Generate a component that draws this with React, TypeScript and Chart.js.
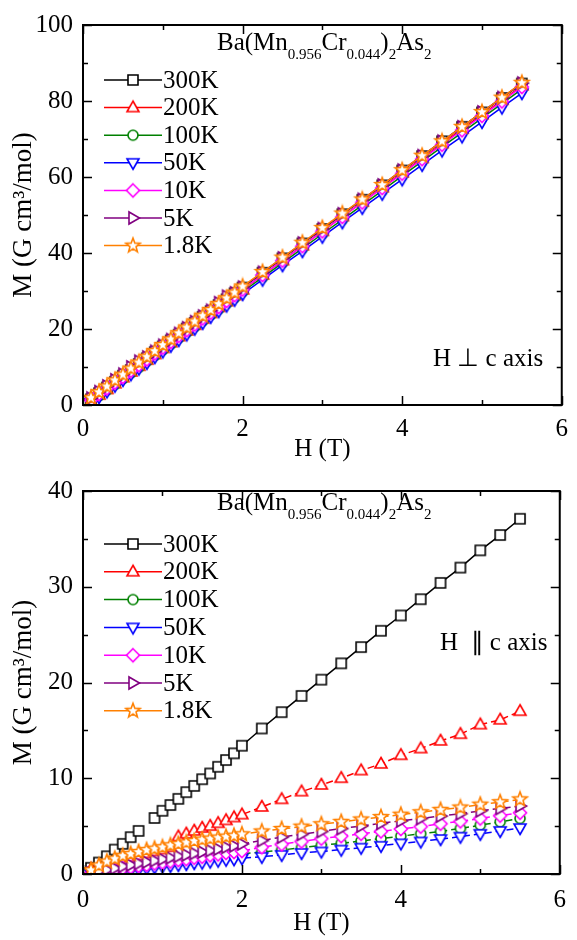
import { useEffect, useRef } from 'react';
import { Chart, registerables } from 'chart.js';

Chart.register(...registerables);

const FONT = '"Liberation Serif", "Times New Roman", Times, serif';

const SERIES_LABELS = ['300K', '200K', '100K', '50K', '10K', '5K', '1.8K'];
const SERIES_COLORS = ['#000000', '#ff0000', '#008000', '#0000ff', '#ff00ff', '#800080', '#ff8000'];
const SERIES_SHAPES = ['square', 'triangle', 'circle', 'triangleDown', 'diamond', 'triangleRight', 'star'];

const H_FIELD = [0.1, 0.2, 0.3, 0.4, 0.5, 0.6, 0.7, 0.8, 0.9, 1.0, 1.1, 1.2, 1.3, 1.4, 1.5, 1.6, 1.7, 1.8, 1.9, 2.0,
  2.25, 2.5, 2.75, 3.0, 3.25, 3.5, 3.75, 4.0, 4.25, 4.5, 4.75, 5.0, 5.25, 5.5];

// H perpendicular to c axis
const PERP_300K = [1.5, 3.1, 4.6, 6.1, 7.7, 9.2, 10.8, 12.3, 13.9, 15.4, 17.0, 18.5, 20.1, 21.6, 23.2, 24.7, 26.3, 27.8, 29.4, 30.9, 34.8, 38.6, 42.5, 46.3, 50.2, 54.0, 57.8, 61.7, 65.5, 69.4, 73.2, 77.0, 80.8, 84.6];
const PERP_200K = [1.0, 2.6, 4.1, 5.6, 7.2, 8.7, 10.2, 11.8, 13.3, 14.9, 16.4, 18.0, 19.5, 21.0, 22.6, 24.1, 25.7, 27.2, 28.8, 30.3, 34.2, 38.0, 41.9, 45.7, 49.6, 53.4, 57.2, 61.1, 64.9, 68.8, 72.6, 76.4, 80.2, 84.0];
const PERP_100K = [0.9, 2.4, 3.9, 5.4, 6.9, 8.4, 9.9, 11.5, 13.0, 14.5, 16.0, 17.6, 19.1, 20.6, 22.1, 23.7, 25.2, 26.7, 28.2, 29.8, 33.6, 37.4, 41.2, 45.0, 48.8, 52.6, 56.4, 60.3, 64.1, 67.9, 71.7, 75.5, 79.3, 83.1];
const PERP_50K = [0.6, 2.1, 3.6, 5.1, 6.6, 8.1, 9.6, 11.1, 12.6, 14.1, 15.6, 17.1, 18.6, 20.1, 21.6, 23.2, 24.7, 26.2, 27.7, 29.2, 33.0, 36.8, 40.5, 44.3, 48.1, 51.9, 55.6, 59.4, 63.2, 67.0, 70.7, 74.5, 78.3, 82.1];
const PERP_10K = [1.3, 2.9, 4.4, 5.9, 7.4, 9.0, 10.5, 12.0, 13.6, 15.1, 16.6, 18.2, 19.7, 21.2, 22.8, 24.3, 25.8, 27.4, 28.9, 30.4, 34.2, 38.0, 41.8, 45.7, 49.5, 53.3, 57.1, 60.9, 64.7, 68.5, 72.3, 76.1, 79.9, 83.7];
const PERP_5K = [1.8, 3.5, 5.0, 6.6, 8.1, 10.0, 11.5, 12.6, 14.1, 15.7, 17.2, 18.8, 20.3, 21.9, 23.4, 24.9, 26.9, 28.6, 29.5, 31.0, 34.9, 38.7, 42.6, 46.4, 50.3, 54.1, 57.9, 61.8, 65.6, 69.4, 73.2, 77.1, 80.9, 84.7];
const PERP_1P8K = [1.9, 3.4, 4.9, 6.5, 8.0, 9.6, 11.2, 12.7, 14.2, 15.8, 17.3, 18.9, 20.4, 22.0, 23.5, 25.0, 26.6, 28.1, 29.6, 31.2, 35.0, 38.8, 42.7, 46.6, 50.4, 54.1, 57.9, 61.8, 65.6, 69.4, 73.2, 77.1, 80.9, 84.8];

// H parallel to c axis
const PAR_300K = [0.65, 1.2, 1.85, 2.55, 3.15, 3.85, 4.5, null, 5.85, 6.6, 7.2, 7.85, 8.55, 9.2, 9.9, 10.5, 11.2, 11.9, 12.6, 13.4, 15.2, 16.9, 18.6, 20.3, 22.0, 23.7, 25.4, 27.0, 28.7, 30.4, 32.0, 33.8, 35.4, 37.1];
const PAR_200K = [0.5, 0.8, 1.0, 1.25, 1.45, 1.7, 1.9, 2.15, 2.35, 2.55, 2.8, 3.9, 4.2, 4.5, 4.8, 5.0, 5.3, 5.6, 5.9, 6.2, 7.0, 7.8, 8.6, 9.3, 10.0, 10.8, 11.5, 12.4, 13.1, 13.9, 14.6, 15.6, 16.1, 17.0];
const PAR_100K = [0.0, 0.15, 0.3, 0.4, 0.55, 0.65, 0.8, 0.9, 1.0, 1.1, 1.2, 1.3, 1.4, 1.5, 1.6, 1.7, 1.8, 1.9, 2.0, 2.1, 2.3, 2.5, 2.75, 3.0, 3.2, 3.45, 3.7, 3.95, 4.2, 4.45, 4.75, 5.1, 5.45, 5.8];
const PAR_50K = [0.0, 0.1, 0.15, 0.25, 0.35, 0.45, 0.5, 0.6, 0.7, 0.8, 0.85, 0.95, 1.05, 1.15, 1.2, 1.3, 1.4, 1.5, 1.55, 1.65, 1.8, 2.0, 2.2, 2.35, 2.55, 2.75, 2.95, 3.2, 3.4, 3.65, 3.9, 4.2, 4.5, 4.8];
const PAR_10K = [0.05, 0.2, 0.35, 0.45, 0.6, 0.7, 0.85, 0.95, 1.1, 1.2, 1.3, 1.45, 1.55, 1.7, 1.8, 1.95, 2.05, 2.2, 2.3, 2.4, 2.8, 3.1, 3.4, 3.7, 3.95, 4.2, 4.45, 4.7, 4.95, 5.25, 5.5, 5.8, 6.1, 6.4];
const PAR_5K = [0.1, 0.3, 0.45, 0.6, 0.8, 0.95, 1.1, 1.25, 1.4, 1.55, 1.7, 1.85, 2.0, 2.15, 2.3, 2.45, 2.6, 2.8, 2.95, 3.15, 3.5, 3.85, 4.15, 4.45, 4.75, 5.0, 5.3, 5.55, 5.8, 6.05, 6.3, 6.6, 6.85, 7.1];
const PAR_1P8K = [0.4, 0.9, 1.3, 1.6, 1.9, 2.1, 2.3, 2.5, 2.65, 2.8, 3.0, 3.15, 3.3, 3.45, 3.6, 3.7, 3.8, 3.9, 4.0, 4.15, 4.45, 4.7, 4.95, 5.2, 5.45, 5.7, 5.95, 6.2, 6.45, 6.7, 6.95, 7.25, 7.5, 7.8];

const PERP_SERIES = [PERP_300K, PERP_200K, PERP_100K, PERP_50K, PERP_10K, PERP_5K, PERP_1P8K];
const PAR_SERIES = [PAR_300K, PAR_200K, PAR_100K, PAR_50K, PAR_10K, PAR_5K, PAR_1P8K];

const X_LABEL_TICKS = [0, 2, 4, 6];
const Y_TITLE = 'M (G cm\u00B3/mol)';
const X_TITLE = 'H (T)';

function makeMarker(shape: string, color: string): HTMLCanvasElement {
  const size = 20;
  const c = document.createElement('canvas');
  c.width = size;
  c.height = size;
  const ctx = c.getContext('2d')!;
  const cx = size / 2;
  const cy = size / 2;
  ctx.strokeStyle = color;
  ctx.fillStyle = '#ffffff';
  ctx.lineWidth = 1.6;
  ctx.lineJoin = 'miter';
  ctx.beginPath();
  if (shape === 'square') {
    ctx.rect(cx - 5, cy - 5, 10, 10);
  } else if (shape === 'triangle') {
    ctx.moveTo(cx, cy - 6.5);
    ctx.lineTo(cx + 6, cy + 4);
    ctx.lineTo(cx - 6, cy + 4);
    ctx.closePath();
  } else if (shape === 'triangleDown') {
    ctx.moveTo(cx, cy + 6.5);
    ctx.lineTo(cx + 6, cy - 4);
    ctx.lineTo(cx - 6, cy - 4);
    ctx.closePath();
  } else if (shape === 'triangleRight') {
    ctx.moveTo(cx + 6.5, cy);
    ctx.lineTo(cx - 4, cy + 6);
    ctx.lineTo(cx - 4, cy - 6);
    ctx.closePath();
  } else if (shape === 'circle') {
    ctx.arc(cx, cy, 5, 0, Math.PI * 2);
  } else if (shape === 'diamond') {
    ctx.moveTo(cx, cy - 6.5);
    ctx.lineTo(cx + 6.5, cy);
    ctx.lineTo(cx, cy + 6.5);
    ctx.lineTo(cx - 6.5, cy);
    ctx.closePath();
  } else if (shape === 'star') {
    for (let k = 0; k < 10; k++) {
      const r = k % 2 === 0 ? 7.5 : 3.2;
      const a = -Math.PI / 2 + (k * Math.PI) / 5;
      const px = cx + r * Math.cos(a);
      const py = cy + r * Math.sin(a);
      if (k === 0) ctx.moveTo(px, py);
      else ctx.lineTo(px, py);
    }
    ctx.closePath();
  }
  ctx.fill();
  ctx.stroke();
  return c;
}

type PanelCfg = {
  height: number;
  padTop: number;
  plotBottom: number;
  yMax: number;
  yStep: number;
  yMinor: number;
  series: (number | null)[][];
  dashed: boolean;
  titleBaseline: number;
  legendY0: number;
  legendDy: number;
  note: string;
  noteX: number;
  noteY: number;
  xTickPad: number;
};

function Panel({ cfg }: { cfg: PanelCfg }) {
  const ref = useRef<HTMLCanvasElement | null>(null);
  useEffect(() => {
    const canvas = ref.current;
    if (!canvas) return;
    const markers = SERIES_SHAPES.map((s, i) => makeMarker(s, SERIES_COLORS[i]));

    const datasets = cfg.series.map((vals, i) => ({
      label: SERIES_LABELS[i],
      data: H_FIELD.map((h, j) => ({ x: h, y: vals[j] })),
      borderColor: SERIES_COLORS[i],
      backgroundColor: SERIES_COLORS[i],
      borderWidth: 1.5,
      borderDash: cfg.dashed && i > 0 ? [7, 4] : [],
      pointStyle: markers[i],
      pointRadius: 6,
      pointHoverRadius: 6,
      spanGaps: false,
      tension: 0,
      order: SERIES_LABELS.length - i,
    }));

    const framePlugin = {
      id: 'frameAndDecor',
      afterDraw(chart: any) {
        const ctx = chart.ctx;
        const a = chart.chartArea;
        const xs = chart.scales.x;
        const ys = chart.scales.y;
        ctx.save();
        ctx.strokeStyle = '#000';
        ctx.lineWidth = 2;
        ctx.setLineDash([]);
        ctx.strokeRect(a.left, a.top, a.right - a.left, a.bottom - a.top);
        ctx.lineWidth = 1.5;
        for (let v = 0; v <= 6; v += 1) {
          const px = Math.round(xs.getPixelForValue(v)) + 0.5;
          const len = v % 2 === 0 ? 9 : 5;
          ctx.beginPath();
          ctx.moveTo(px, a.bottom);
          ctx.lineTo(px, a.bottom - len);
          ctx.moveTo(px, a.top);
          ctx.lineTo(px, a.top + len);
          ctx.stroke();
        }
        for (let v = 0; v <= cfg.yMax + 1e-9; v += cfg.yMinor) {
          const py = Math.round(ys.getPixelForValue(v)) + 0.5;
          const major = Math.abs(v / cfg.yStep - Math.round(v / cfg.yStep)) < 1e-6;
          const len = major ? 9 : 5;
          ctx.beginPath();
          ctx.moveTo(a.left, py);
          ctx.lineTo(a.left + len, py);
          ctx.moveTo(a.right, py);
          ctx.lineTo(a.right - len, py);
          ctx.stroke();
        }
        // legend
        ctx.textBaseline = 'middle';
        ctx.textAlign = 'left';
        ctx.font = `25px ${FONT}`;
        for (let i = 0; i < SERIES_LABELS.length; i++) {
          const y = cfg.legendY0 + i * cfg.legendDy;
          ctx.strokeStyle = SERIES_COLORS[i];
          ctx.lineWidth = 1.5;
          ctx.beginPath();
          ctx.moveTo(104, y);
          ctx.lineTo(162, y);
          ctx.stroke();
          const m = markers[i];
          ctx.drawImage(m, 133 - m.width / 2, y - m.height / 2);
          ctx.fillStyle = '#000';
          ctx.fillText(SERIES_LABELS[i], 163, y + 1);
        }
        // formula title
        ctx.textBaseline = 'alphabetic';
        const parts: [string, boolean][] = [['Ba(Mn', false], ['0.956', true], ['Cr', false], ['0.044', true], [')', false], ['2', true], ['As', false], ['2', true]];
        let tx = 217;
        for (const [t, sub] of parts) {
          ctx.font = sub ? `15px ${FONT}` : `25px ${FONT}`;
          ctx.fillText(t, tx, sub ? cfg.titleBaseline + 9 : cfg.titleBaseline);
          tx += ctx.measureText(t).width;
        }
        // orientation note
        ctx.font = `25px ${FONT}`;
        ctx.fillText(cfg.note, cfg.noteX, cfg.noteY);
        ctx.restore();
      },
    };

    const chart = new Chart(canvas, {
      type: 'line',
      data: { datasets },
      options: {
        animation: false,
        responsive: false,
        maintainAspectRatio: false,
        devicePixelRatio: 1,
        layout: { padding: { left: 0, right: 5, top: cfg.padTop, bottom: 0 } },
        plugins: { legend: { display: false }, tooltip: { enabled: false }, title: { display: false } },
        events: [],
        scales: {
          x: {
            type: 'linear',
            min: 0,
            max: 6,
            grid: { display: false, drawTicks: false },
            border: { display: false },
            afterFit: (s: any) => { s.height = cfg.height - cfg.plotBottom; },
            afterBuildTicks: (s: any) => { s.ticks = X_LABEL_TICKS.map((v) => ({ value: v })); },
            ticks: { color: '#000', padding: cfg.xTickPad, font: { family: FONT, size: 25 }, maxRotation: 0 },
            title: { display: true, text: X_TITLE, color: '#000', font: { family: FONT, size: 25 }, padding: { top: 0, bottom: 2 } },
          },
          y: {
            type: 'linear',
            min: 0,
            max: cfg.yMax,
            grid: { display: false, drawTicks: false },
            border: { display: false },
            afterFit: (s: any) => { s.width = 83; },
            ticks: { color: '#000', padding: 10, stepSize: cfg.yStep, font: { family: FONT, size: 25 } },
            title: { display: true, text: Y_TITLE, color: '#000', font: { family: FONT, size: 27 }, padding: { top: 8, bottom: 0 } },
          },
        },
      },
      plugins: [framePlugin],
    } as any);
    return () => chart.destroy();
  }, [cfg]);
  return <canvas ref={ref} width={577} height={cfg.height} style={{ display: 'block', width: 577, height: cfg.height }} />;
}

const TOP_CFG: PanelCfg = {
  height: 466,
  padTop: 12,
  plotBottom: 405,
  yMax: 100,
  yStep: 20,
  yMinor: 10,
  series: PERP_SERIES,
  dashed: false,
  titleBaseline: 50,
  legendY0: 80,
  legendDy: 27.6,
  note: 'H \u22A5 c axis',
  noteX: 433,
  noteY: 366,
  xTickPad: 9,
};

const BOTTOM_CFG: PanelCfg = {
  height: 474,
  padTop: 19,
  plotBottom: 408,
  yMax: 40,
  yStep: 10,
  yMinor: 5,
  series: PAR_SERIES,
  dashed: true,
  titleBaseline: 44,
  legendY0: 78,
  legendDy: 27.8,
  note: 'H  \u2225 c axis',
  noteX: 440,
  noteY: 184,
  xTickPad: 11,
};

export default function App() {
  return (
    <div style={{ position: 'absolute', left: 0, top: 0, width: 577, height: 940, background: '#fff', overflow: 'hidden' }}>
      <Panel cfg={TOP_CFG} />
      <Panel cfg={BOTTOM_CFG} />
    </div>
  );
}
